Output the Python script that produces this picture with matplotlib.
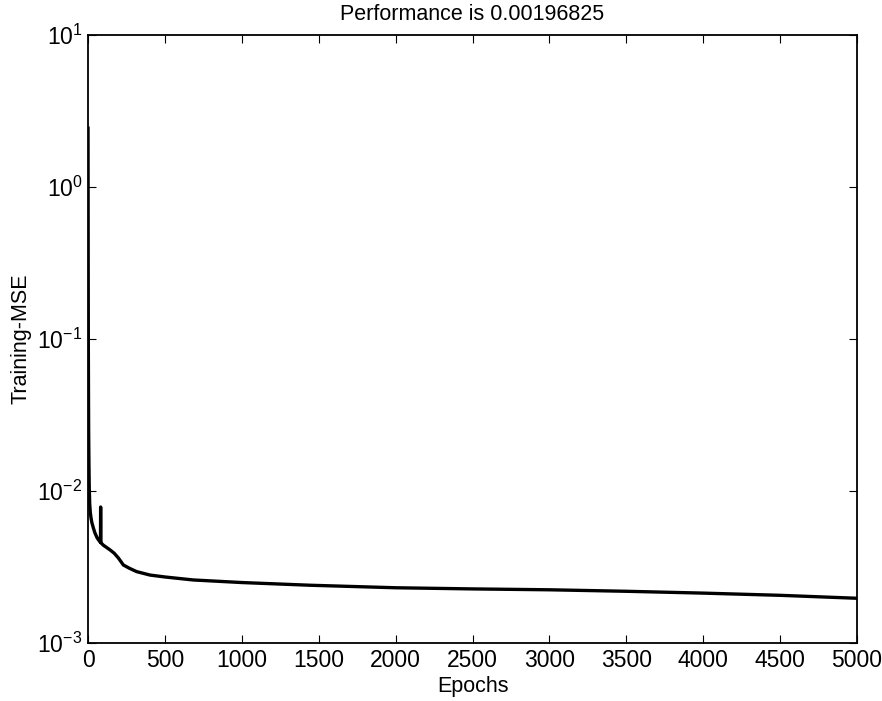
import numpy as np
import matplotlib.pyplot as plt
import matplotlib.ticker as mticker

plt.rcParams['font.family'] = ['Liberation Sans', 'DejaVu Sans']
plt.rcParams['mathtext.fontset'] = 'custom'
plt.rcParams['mathtext.rm'] = 'Liberation Sans'

# training curve (epoch, mse)
epochs = [0, 1, 2, 3, 4, 6, 8, 11, 15, 20, 25, 35, 45, 60, 78, 81, 82, 83, 85,
          100, 143, 170, 197, 230, 270, 316, 403, 500, 683, 1000, 1443, 2000,
          2500, 3000, 3500, 4000, 4500, 5000]
mse = [2.44, 0.35, 0.09, 0.045, 0.025, 0.015, 0.0105, 0.0082, 0.0072, 0.0066,
       0.0062, 0.0057, 0.0053, 0.0049, 0.00463, 0.0046, 0.00785, 0.0047, 0.00455,
       0.0044, 0.0041, 0.0039, 0.00363, 0.00326, 0.0031, 0.00295, 0.0028, 0.00272,
       0.0026, 0.0025, 0.0024, 0.00231, 0.00227, 0.00224, 0.00219, 0.00213,
       0.00206, 0.00197]
xticks = [0, 500, 1000, 1500, 2000, 2500, 3000, 3500, 4000, 4500, 5000]

fig = plt.figure(figsize=(8.82, 7.01), dpi=100)
ax = fig.add_axes([0.0998, 0.0827, 0.8719, 0.8673])
ax.semilogy(epochs, mse, color='black', linewidth=2.4)

ax.set_xlim(0, 5000)
ax.set_ylim(1e-3, 1e1)
ax.set_xticks(xticks)
ax.yaxis.set_minor_locator(mticker.NullLocator())
ax.tick_params(direction='in', top=True, right=True, length=5.5, width=0.8,
               labelsize=16.5, pad=4)
for s in ax.spines.values():
    s.set_linewidth(1.3)

ax.set_title('Performance is 0.00196825', fontsize=15.5, pad=11)
ax.set_xlabel('Epochs', fontsize=15.5, labelpad=3)
ax.set_ylabel('Training-MSE', fontsize=15.5, labelpad=4)

fig.savefig('out.png', dpi=100)
